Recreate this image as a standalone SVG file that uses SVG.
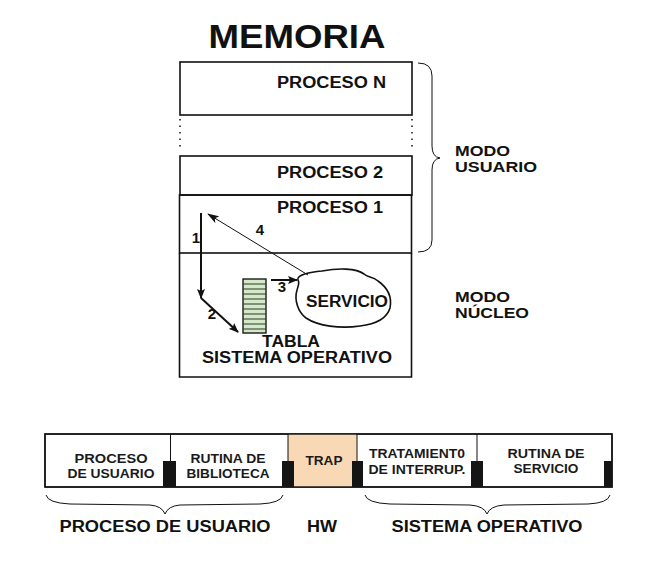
<svg xmlns="http://www.w3.org/2000/svg" width="648" height="564" viewBox="0 0 648 564">
<style>
.t{font-family:"Liberation Sans",Arial,sans-serif;font-weight:bold;fill:#111}
.s{font-family:"Liberation Sans",Arial,sans-serif;font-weight:bold;fill:#1a1a1a;font-size:13.5px}
.box{fill:none;stroke:#111;stroke-width:1.6}
.thin{fill:none;stroke:#111;stroke-width:1}
.blk{fill:#151515}
</style>
<defs>
<marker id="ah" markerWidth="10" markerHeight="8" refX="9" refY="4" orient="auto" markerUnits="userSpaceOnUse">
<path d="M0,0 L10,4 L0,8 L2,4 Z" fill="#111"/>
</marker>
<marker id="ahs" markerWidth="12" markerHeight="8" refX="11" refY="4" orient="auto" markerUnits="userSpaceOnUse">
<path d="M0,0 L12,4 L0,8 L3,4 Z" fill="#111"/>
</marker>
</defs>
<rect width="648" height="564" fill="#fff"/>

<text class="t" x="297" y="48" font-size="33" text-anchor="middle" textLength="177" lengthAdjust="spacingAndGlyphs">MEMORIA</text>

<g id="proceso-n">
<rect class="box" x="180" y="62" width="232" height="53"/>
<text class="t" x="277" y="88" font-size="16" textLength="109" lengthAdjust="spacingAndGlyphs">PROCESO N</text>
</g>
<g id="dots">
<line x1="180" y1="119" x2="180" y2="150" stroke="#111" stroke-width="1.5" stroke-dasharray="1.5,5"/>
<line x1="412" y1="119" x2="412" y2="150" stroke="#111" stroke-width="1.5" stroke-dasharray="1.5,5"/>
</g>
<g id="proceso-2">
<rect class="box" x="180" y="156" width="232" height="39"/>
<text class="t" x="277" y="178" font-size="16" textLength="106" lengthAdjust="spacingAndGlyphs">PROCESO 2</text>
</g>
<g id="proceso-1">
<rect class="box" x="179.5" y="195" width="232" height="58"/>
<text class="t" x="277" y="213" font-size="16" textLength="106" lengthAdjust="spacingAndGlyphs">PROCESO 1</text>
</g>
<g id="sistema-operativo">
<path class="box" d="M179.5,253 V377 H411.5 V253"/>
<text class="t" x="291" y="347" font-size="16" text-anchor="middle" textLength="58" lengthAdjust="spacingAndGlyphs">TABLA</text>
<text class="t" x="297" y="363" font-size="16" text-anchor="middle" textLength="190" lengthAdjust="spacingAndGlyphs">SISTEMA OPERATIVO</text>
</g>
<g id="tabla">
<rect x="243" y="279" width="23" height="54" fill="#d5e8c8" stroke="#1a1a1a" stroke-width="1.4"/>
<path d="M243,284 H266 M243,289 H266 M243,294 H266 M243,299 H266 M243,304 H266 M243,309 H266 M243,314 H266 M243,319 H266 M243,324 H266 M243,329 H266" stroke="#2a3a2a" stroke-width="1"/>
</g>
<g id="servicio">
<path d="M298,280 C296,275 310,272 322,271 C338,268 356,268 364,274 C368,278 372,276 378,281 C388,288 392,298 390,308 C387,318 377,324 360,326 C340,329 318,326 306,318 C298,312 294,300 297,290 C298,286 300,283 298,280 Z" fill="#fff" stroke="#111" stroke-width="1.6"/>
<text class="t" x="347" y="307" font-size="16" text-anchor="middle" textLength="82" lengthAdjust="spacingAndGlyphs">SERVICIO</text>
</g>

<g id="connectors">
<line x1="201" y1="213" x2="201" y2="298" stroke="#111" stroke-width="2" marker-end="url(#ah)"/>
<line x1="201" y1="298" x2="238" y2="332" stroke="#111" stroke-width="2" marker-end="url(#ah)"/>
<line x1="271" y1="280" x2="297" y2="280" stroke="#111" stroke-width="2" marker-end="url(#ah)"/>
<line x1="308" y1="275" x2="208" y2="214" stroke="#111" stroke-width="1" marker-end="url(#ahs)"/>
<text class="t" x="196" y="243" font-size="15" text-anchor="middle">1</text>
<text class="t" x="212" y="319" font-size="15" text-anchor="middle">2</text>
<text class="t" x="282" y="292" font-size="15" text-anchor="middle">3</text>
<text class="t" x="260" y="235" font-size="15" text-anchor="middle">4</text>
</g>

<g id="brace-usuario">
<path class="thin" stroke-width="1.4" d="M418,63 Q432,63 432,76 L432,146 Q432,157 440,158 Q432,159 432,170 L432,240 Q432,252 418,252"/>
<text class="t" x="455" y="156" font-size="15.5" textLength="55" lengthAdjust="spacingAndGlyphs">MODO</text>
<text class="t" x="455" y="172" font-size="15.5" textLength="82" lengthAdjust="spacingAndGlyphs">USUARIO</text>
<text class="t" x="455" y="302" font-size="15.5" textLength="55" lengthAdjust="spacingAndGlyphs">MODO</text>
<text class="t" x="455" y="318" font-size="15.5" textLength="74" lengthAdjust="spacingAndGlyphs">NÚCLEO</text>
</g>

<g id="strip">
<rect x="45" y="434" width="567" height="53" fill="#fff" stroke="#111" stroke-width="1.4"/>
<rect x="288" y="434" width="69" height="53" fill="#f9d9b5"/>
<rect x="45" y="434" width="567" height="53" fill="none" stroke="#111" stroke-width="1.4"/>
<line x1="170.5" y1="434" x2="170.5" y2="487" stroke="#111" stroke-width="1"/>
<line x1="288" y1="434" x2="288" y2="487" stroke="#111" stroke-width="1"/>
<line x1="357" y1="434" x2="357" y2="487" stroke="#111" stroke-width="1"/>
<line x1="477" y1="434" x2="477" y2="487" stroke="#111" stroke-width="1"/>
<rect class="blk" x="163" y="461" width="13" height="26"/>
<rect class="blk" x="282" y="461" width="12" height="26"/>
<rect class="blk" x="352" y="461" width="11" height="26"/>
<rect class="blk" x="471" y="461" width="12" height="26"/>
<rect class="blk" x="604" y="461" width="8" height="26"/>
</g>
<g id="proceso-usuario">
<text class="s" x="111" y="463" text-anchor="middle" textLength="73" lengthAdjust="spacingAndGlyphs">PROCESO</text>
<text class="s" x="111" y="478" text-anchor="middle" textLength="87" lengthAdjust="spacingAndGlyphs">DE USUARIO</text>
</g>
<g id="rutina-biblioteca">
<text class="s" x="228" y="463" text-anchor="middle" textLength="75" lengthAdjust="spacingAndGlyphs">RUTINA DE</text>
<text class="s" x="228" y="478" text-anchor="middle" textLength="83" lengthAdjust="spacingAndGlyphs">BIBLIOTECA</text>
</g>
<g id="trap">
<text class="s" x="324" y="465" text-anchor="middle" textLength="37" lengthAdjust="spacingAndGlyphs">TRAP</text>
</g>
<g id="tratamiento">
<text class="s" x="417" y="458" text-anchor="middle" textLength="96" lengthAdjust="spacingAndGlyphs">TRATAMIENT0</text>
<text class="s" x="417" y="474" text-anchor="middle" textLength="97" lengthAdjust="spacingAndGlyphs">DE INTERRUP.</text>
</g>
<g id="rutina-servicio">
<text class="s" x="546" y="458" text-anchor="middle" textLength="77" lengthAdjust="spacingAndGlyphs">RUTINA DE</text>
<text class="s" x="546" y="473" text-anchor="middle" textLength="65" lengthAdjust="spacingAndGlyphs">SERVICIO</text>
</g>

<g id="bottom-braces">
<path class="thin" stroke-width="1.3" d="M46,495 Q48,503 70,504 L150,505 Q162,506 165,514 Q168,506 180,505 L260,504 Q281,503 283,495"/>
<path class="thin" stroke-width="1.3" d="M365,495 Q367,503 390,504 L470,505 Q484,506 487,514 Q490,506 504,505 L588,504 Q608,503 610,495"/>
<text class="t" x="165" y="532" font-size="16" text-anchor="middle" textLength="211" lengthAdjust="spacingAndGlyphs">PROCESO DE USUARIO</text>
<text class="t" x="322" y="532" font-size="16" text-anchor="middle" textLength="30" lengthAdjust="spacingAndGlyphs">HW</text>
<text class="t" x="487" y="532" font-size="16" text-anchor="middle" textLength="191" lengthAdjust="spacingAndGlyphs">SISTEMA OPERATIVO</text>
</g>
</svg>
